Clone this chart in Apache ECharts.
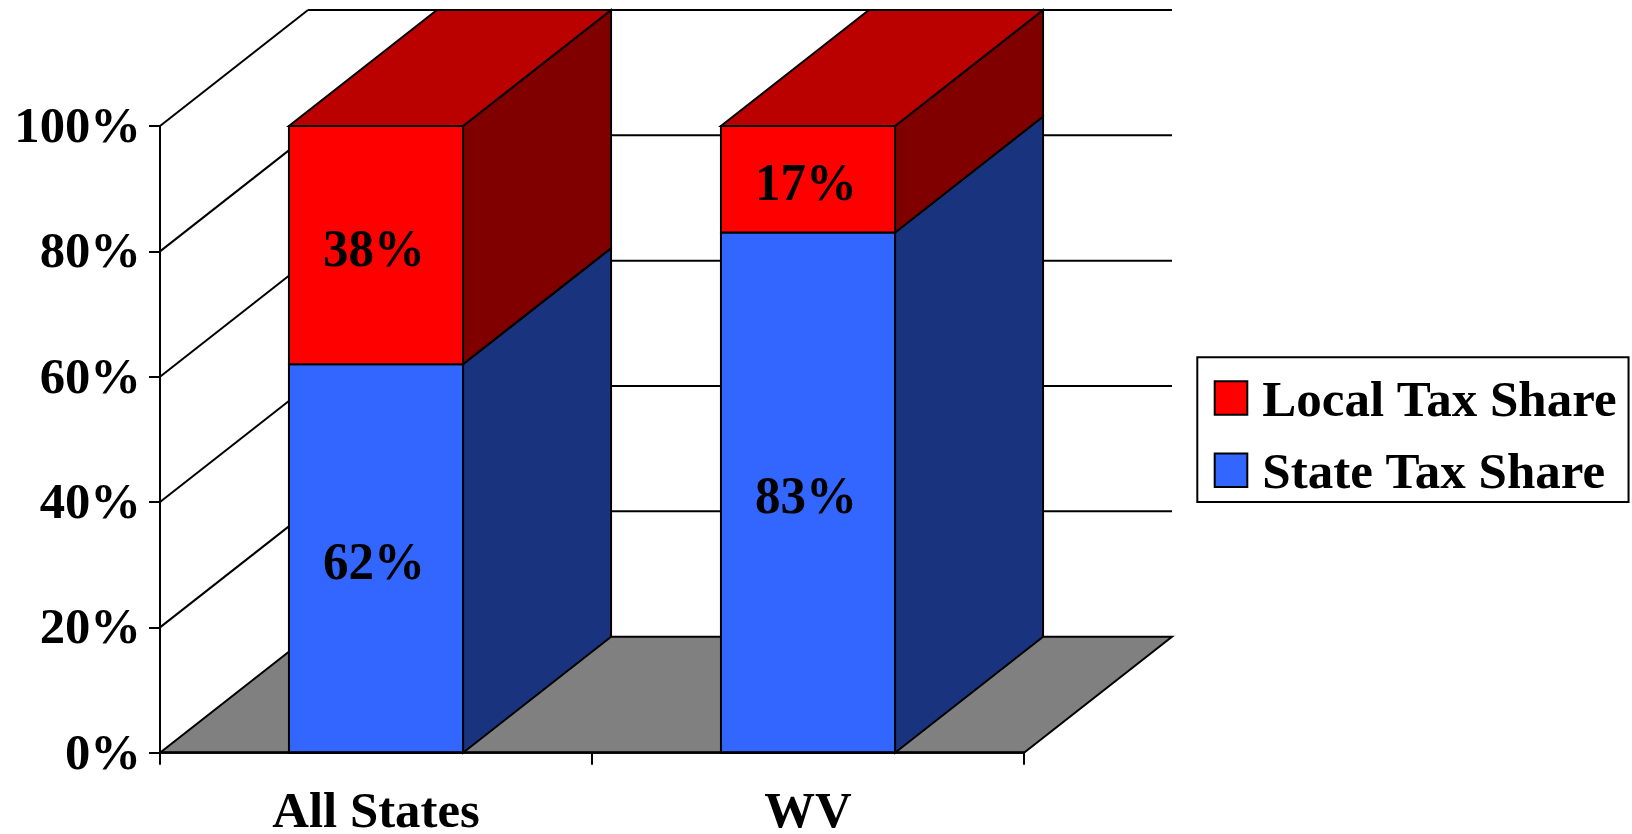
<!DOCTYPE html>
<html>
<head>
<meta charset="utf-8">
<title>State and local tax share</title>
<script src="https://cdn.jsdelivr.net/npm/echarts@6/dist/echarts.min.js"></script>
<style>
  html, body { margin: 0; padding: 0; background: #fff; }
  #chart { width: 1632px; height: 834px; }
</style>
</head>
<body>
<div id="chart"></div>
<script>
// Share of tax collections, in percent of the total
const categories = ['All States', 'WV'];
const stateShare = [62, 83];
const localShare = [38, 17];
const yTicks = [0, 20, 40, 60, 80, 100];

// Oblique projection of the box: how far the rear plane sits from the front one
const DEPTH_X = 148;
const DEPTH_Y = -116;
const BAR_RATIO = 0.403;
const SERIF = '"Liberation Serif", "Times New Roman", serif';
const STROKE = { stroke: '#000', lineWidth: 2 };

function poly(points, fill) {
  return { type: 'polygon', shape: { points }, style: Object.assign({ fill }, STROKE) };
}
function back(p) { return [p[0] + DEPTH_X, p[1] + DEPTH_Y]; }

// Floor and wall grid lines of the 3D frame
function renderFrame(params, api) {
  const value = api.value(0);
  const band = api.size([1, 0])[0];
  const mid = api.coord([0, value]);
  const left = [mid[0] - band / 2, mid[1]];
  const right = [left[0] + band * categories.length, left[1]];
  const children = [];
  if (value === 0) {
    children.push(poly([left, right, back(right), back(left)], '#808080'));
  } else {
    children.push({ type: 'line', shape: { x1: left[0], y1: left[1], x2: left[0] + DEPTH_X, y2: left[1] + DEPTH_Y }, style: STROKE });
    children.push({ type: 'line', shape: { x1: left[0] + DEPTH_X, y1: left[1] + DEPTH_Y, x2: right[0] + DEPTH_X, y2: right[1] + DEPTH_Y }, style: STROKE });
  }
  return { type: 'group', children };
}

// One stacked segment: front face, side face, and a top face when it closes the stack
function segmentRenderer(front, side, top) {
  return function (params, api) {
    const idx = api.value(0);
    const lo = api.value(1);
    const hi = api.value(2);
    const c0 = api.coord([idx, lo]);
    const c1 = api.coord([idx, hi]);
    const half = api.size([1, 0])[0] * BAR_RATIO / 2;
    const bl = [c0[0] - half, c0[1]];
    const br = [c0[0] + half, c0[1]];
    const tl = [c0[0] - half, c1[1]];
    const tr = [c0[0] + half, c1[1]];
    const children = [poly([br, tr, back(tr), back(br)], side)];
    if (top) children.push(poly([tl, tr, back(tr), back(tl)], top));
    children.push(poly([bl, br, tr, tl], front));
    children.push({
      type: 'text',
      x: c0[0] - 2,
      y: (c0[1] + c1[1]) / 2 + 7,
      scaleY: 1.05,
      style: {
        text: (hi - lo) + '%',
        fill: '#000',
        fontFamily: SERIF,
        fontWeight: 'bold',
        fontSize: 51,
        align: 'center',
        verticalAlign: 'middle'
      }
    });
    return { type: 'group', children };
  };
}

const chart = echarts.init(document.getElementById('chart'));
chart.setOption({
  animation: false,
  backgroundColor: '#fff',
  grid: { left: 160, top: 126, width: 864, height: 626.7, outerBoundsMode: 'none' },
  legend: {
    orient: 'vertical',
    left: 1197.3,
    top: 357.3,
    padding: [10.2, 12, 1.25, 16.4],
    itemWidth: 32.6,
    itemHeight: 33.5,
    itemGap: 11.2,
    borderColor: '#000',
    borderWidth: 2,
    selectedMode: false,
    formatter: name => `{t|${name}}`,
    textStyle: {
      rich: {
        t: {
          fontFamily: SERIF,
          fontWeight: 'bold',
          fontSize: 51,
          color: '#000',
          lineHeight: 40,
          padding: [10, 0, 0, 10]
        }
      }
    },
    data: [
      { name: 'Local Tax Share', icon: 'rect', itemStyle: { color: '#FF0000', borderColor: '#000', borderWidth: 2 } },
      { name: 'State Tax Share', icon: 'rect', itemStyle: { color: '#3366FF', borderColor: '#000', borderWidth: 2 } }
    ]
  },
  xAxis: {
    type: 'category',
    data: categories,
    boundaryGap: true,
    z: 10,
    axisLine: { lineStyle: { color: '#000', width: 2.5 } },
    axisTick: { show: true, length: 12, alignWithLabel: false, lineStyle: { color: '#000', width: 2 } },
    axisLabel: {
      margin: 36,
      color: '#000',
      fontFamily: SERIF,
      fontWeight: 'bold',
      fontSize: 50.8
    }
  },
  yAxis: {
    type: 'value',
    min: 0,
    max: 100,
    interval: 20,
    z: 10,
    splitLine: { show: false },
    axisLine: { show: true, lineStyle: { color: '#000', width: 2 } },
    axisTick: { show: true, length: 11, lineStyle: { color: '#000', width: 2 } },
    axisLabel: {
      margin: 19,
      formatter: value => `{t|${value}%}`,
      rich: {
        t: {
          fontFamily: SERIF,
          fontWeight: 'bold',
          fontSize: 50.7,
          color: '#000',
          padding: [6, 0, 0, 0]
        }
      }
    }
  },
  series: [
    {
      type: 'custom',
      name: 'frame',
      silent: true,
      renderItem: renderFrame,
      encode: { y: 0 },
      data: yTicks.map(v => [v])
    },
    {
      type: 'custom',
      name: 'State Tax Share',
      itemStyle: { color: '#3366FF' },
      renderItem: segmentRenderer('#3366FF', '#1A337F', null),
      encode: { x: 0, y: 2 },
      data: categories.map((c, i) => [i, 0, stateShare[i]])
    },
    {
      type: 'custom',
      name: 'Local Tax Share',
      itemStyle: { color: '#FF0000' },
      renderItem: segmentRenderer('#FF0000', '#800000', '#BB0000'),
      encode: { x: 0, y: 2 },
      data: categories.map((c, i) => [i, stateShare[i], stateShare[i] + localShare[i]])
    }
  ]
});
</script>
</body>
</html>
